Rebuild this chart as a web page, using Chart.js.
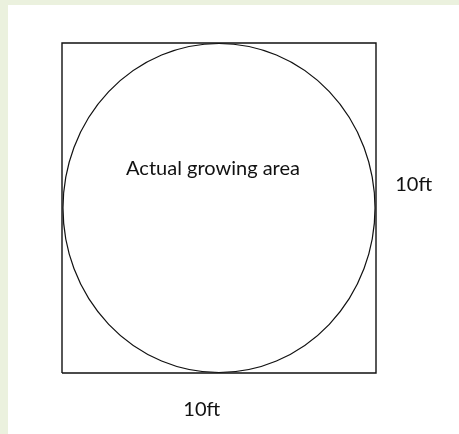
<!DOCTYPE html>
<html>
<head>
<meta charset="utf-8">
<script src="https://cdn.jsdelivr.net/npm/chart.js@4"></script>
<style>
  html, body { margin: 0; padding: 0; background: #ffffff; }
  #wrap { width: 459px; height: 434px; position: relative; }
  canvas { display: block; }
</style>
</head>
<body>
<div id="wrap"><canvas id="c" width="459" height="434"></canvas></div>
<script>
// ---- data (plot units: feet) ----
const squareX = [0, 10, 10, 0, 0];
const squareY = [0, 0, 10, 10, 0];
const circleCenter = [5, 5];
const circleRadius = 5;
const labelTexts = ['Actual growing area', '10ft', '10ft'];
const labelX = [4.81, 11.2, 4.45];
const labelY = [6.2, 5.7, -1.1];

const squarePoints = squareX.map((x, i) => ({ x: x, y: squareY[i] }));

const backgroundPlugin = {
  id: 'pageBackground',
  beforeDraw(chart) {
    const ctx = chart.ctx;
    ctx.save();
    ctx.fillStyle = '#ebf1de';
    ctx.fillRect(0, 0, chart.width, chart.height);
    ctx.fillStyle = '#ffffff';
    ctx.fillRect(8, 5, chart.width - 8, chart.height - 5);
    ctx.restore();
  }
};

const circlePlugin = {
  id: 'inscribedCircle',
  afterDatasetsDraw(chart) {
    const xs = chart.scales.x, ys = chart.scales.y;
    const cx = xs.getPixelForValue(circleCenter[0]);
    const cy = ys.getPixelForValue(circleCenter[1]);
    const rx = Math.abs(xs.getPixelForValue(circleCenter[0] + circleRadius) - cx);
    const ry = Math.abs(ys.getPixelForValue(circleCenter[1] + circleRadius) - cy);
    const ctx = chart.ctx;
    ctx.save();
    ctx.beginPath();
    ctx.ellipse(cx, cy, rx - 1, ry - 0.5, 0, 0, Math.PI * 2);
    ctx.strokeStyle = '#111111';
    ctx.lineWidth = 1.2;
    ctx.stroke();
    ctx.restore();
  }
};

const labelPlugin = {
  id: 'textLabels',
  afterDraw(chart) {
    const xs = chart.scales.x, ys = chart.scales.y;
    const ctx = chart.ctx;
    ctx.save();
    ctx.fillStyle = '#111111';
    ctx.textAlign = 'center';
    ctx.textBaseline = 'middle';
    ctx.font = '20px Lato, "Noto Sans", sans-serif';
    labelTexts.forEach((t, i) => {
      ctx.fillText(t, xs.getPixelForValue(labelX[i]), ys.getPixelForValue(labelY[i]));
    });
    ctx.restore();
  }
};

new Chart(document.getElementById('c'), {
  type: 'scatter',
  data: {
    datasets: [{
      data: squarePoints,
      showLine: true,
      borderColor: '#111111',
      borderWidth: 1.4,
      pointRadius: 0,
      pointHoverRadius: 0,
      tension: 0,
      clip: false
    }]
  },
  options: {
    responsive: false,
    animation: false,
    events: [],
    layout: { padding: { left: 62, right: 83, top: 43, bottom: 61 } },
    scales: {
      x: { type: 'linear', min: 0, max: 10, display: false },
      y: { type: 'linear', min: 0, max: 10, display: false }
    },
    plugins: {
      legend: { display: false },
      tooltip: { enabled: false },
      title: { display: false }
    }
  },
  plugins: [backgroundPlugin, circlePlugin, labelPlugin]
});
</script>
</body>
</html>
